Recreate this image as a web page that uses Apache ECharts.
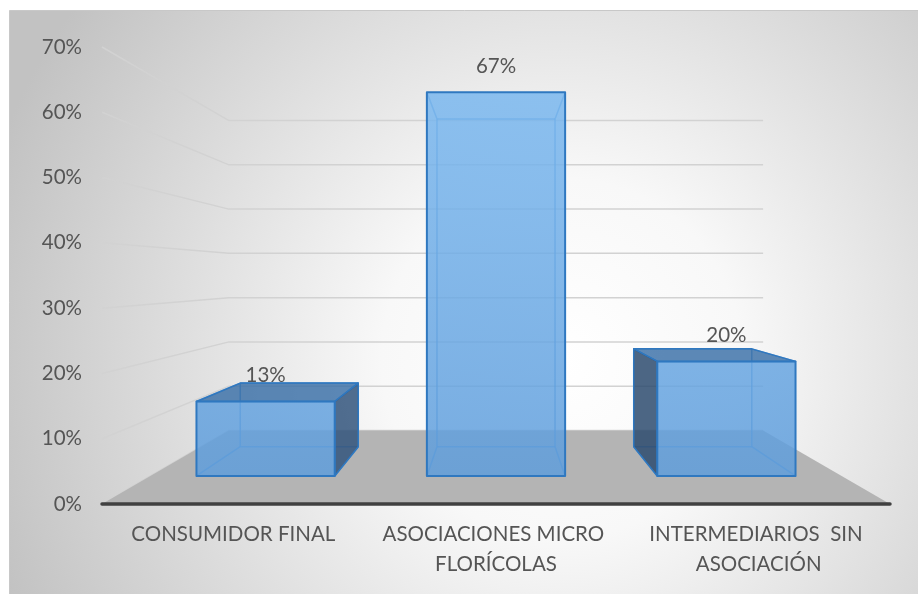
<!DOCTYPE html>
<html><head><meta charset="utf-8">
<script src="https://cdn.jsdelivr.net/npm/echarts@6/dist/echarts.min.js"></script>
<style>html,body{margin:0;padding:0;background:#fff}#c{width:918px;height:594px}</style>
</head><body><div id="c"></div>
<script>
const categories = ['CONSUMIDOR FINAL', 'ASOCIACIONES MICRO FLORÍCOLAS', 'INTERMEDIARIOS  SIN ASOCIACIÓN'];
const values = [13, 67, 20];
const valueLabels = ['13%', '67%', '20%'];
const yTicks = [0, 10, 20, 30, 40, 50, 60, 70];

const FONT = 'Lato';
const FSIZE = 20.5;
const TEXT_COLOR = '#555555';
// depth parameters of the 3D box (perspective, vanishing point at plot centre)
const FLOOR_D = 0.475, BAR_D0 = 0.14, BAR_D1 = 0.335;

function makeProj(cs) {
  const vx = cs.x + cs.width / 2, vy = cs.y + cs.height / 2;
  return function (p, d) { const s = 1 / (1 + d); return [vx + (p[0] - vx) * s, vy + (p[1] - vy) * s]; };
}

function renderWall(params, api) {
  const cs = params.coordSys; const P = makeProj(cs);
  const y = api.coord([0, api.value(1)])[1];
  const xl = cs.x, xr = cs.x + cs.width;
  return {
    type: 'polyline',
    shape: { points: [[xl, y], P([xl, y], FLOOR_D), P([xr, y], FLOOR_D)] },
    style: { stroke: '#d2d2d2', lineWidth: 1.5, fill: null }
  };
}

function renderFloor(params, api) {
  const cs = params.coordSys; const P = makeProj(cs);
  const y0 = api.coord([0, api.value(1)])[1];
  const xl = cs.x, xr = cs.x + cs.width;
  return {
    type: 'group', children: [
      { type: 'polygon', shape: { points: [[xl, y0], [xr, y0], P([xr, y0], FLOOR_D), P([xl, y0], FLOOR_D)] }, style: { fill: '#b4b4b4' } },
      { type: 'line', shape: { x1: xl, y1: y0, x2: xr, y2: y0 }, style: { stroke: '#404040', lineWidth: 3.5, lineCap: 'round' } }
    ]
  };
}

function renderBar(params, api) {
  const cs = params.coordSys; const P = makeProj(cs);
  const i = api.value(0), v = api.value(1);
  const base = api.coord([i, 0]), top = api.coord([i, v]);
  const hw = api.size([1, 0])[0] * 0.3;
  const L = base[0] - hw, R = base[0] + hw, T = top[1], B = base[1];
  const box = d => ({ lt: P([L, T], d), rt: P([R, T], d), rb: P([R, B], d), lb: P([L, B], d) });
  const n = box(BAR_D0), f = box(BAR_D1);
  const edge = '#2f78c0';
  const hidden = 'rgba(70,140,210,0.75)';
  const ch = [];
  const ln = (a, b) => ch.push({ type: 'line', shape: { x1: a[0], y1: a[1], x2: b[0], y2: b[1] }, style: { stroke: hidden, lineWidth: 1.5 } });
  ln(f.lt, f.rt); ln(f.rt, f.rb); ln(f.rb, f.lb); ln(f.lb, f.lt);
  ln(n.lt, f.lt); ln(n.rt, f.rt); ln(n.rb, f.rb); ln(n.lb, f.lb);
  if (f.lt[1] < n.lt[1]) {
    ch.push({ type: 'polygon', shape: { points: [n.lt, n.rt, f.rt, f.lt] }, style: { fill: 'rgba(52,107,165,0.8)', stroke: edge, lineWidth: 1.5, lineJoin: 'round' } });
  }
  if (f.rt[0] > n.rt[0]) {
    ch.push({ type: 'polygon', shape: { points: [n.rt, f.rt, f.rb, n.rb] }, style: { fill: 'rgba(50,85,125,0.85)', stroke: edge, lineWidth: 1.5, lineJoin: 'round' } });
  }
  if (f.lt[0] < n.lt[0]) {
    ch.push({ type: 'polygon', shape: { points: [n.lt, f.lt, f.lb, n.lb] }, style: { fill: 'rgba(45,75,110,0.85)', stroke: edge, lineWidth: 1.5, lineJoin: 'round' } });
  }
  ch.push({
    type: 'polygon', shape: { points: [n.lt, n.rt, n.rb, n.lb] },
    style: {
      fill: { type: 'linear', global: true, x: 0, y: cs.y, x2: 0, y2: cs.y + cs.height,
        colorStops: [{ offset: 0, color: 'rgba(124,186,241,0.84)' }, { offset: 1, color: 'rgba(92,155,218,0.84)' }] },
      stroke: edge, lineWidth: 2, lineJoin: 'round'
    }
  });
  ch.push({
    type: 'text', x: (n.lt[0] + n.rt[0]) / 2, y: n.lt[1] - 26,
    style: { text: valueLabels[params.dataIndex], fill: TEXT_COLOR, fontSize: FSIZE, fontFamily: FONT, align: 'center', verticalAlign: 'middle' }
  });
  return { type: 'group', children: ch };
}

const chart = echarts.init(document.getElementById('c'), null, { renderer: 'canvas' });
chart.setOption({
  animation: false,
  backgroundColor: '#ffffff',
  graphic: [{
    type: 'rect', silent: true, z: -10,
    shape: { x: 9.5, y: 10.5, width: 920, height: 600 },
    style: {
      fill: { type: 'radial', x: 0.6, y: 0.58, r: 1.0,
        colorStops: [{ offset: 0, color: '#ffffff' }, { offset: 0.3, color: '#f8f8f8' }, { offset: 1, color: '#c2c2c2' }] },
      stroke: '#c8c8c8', lineWidth: 1
    }
  }],
  grid: { left: 102, right: 28, top: 47, bottom: 90, containLabel: false, outerBoundsMode: 'none' },
  xAxis: {
    type: 'category', data: categories,
    axisLine: { show: false }, axisTick: { show: false }, splitLine: { show: false },
    axisLabel: { interval: 0, color: TEXT_COLOR, fontFamily: FONT, fontSize: FSIZE, lineHeight: 30, margin: 15, width: 240, overflow: 'break', hideOverlap: false }
  },
  yAxis: {
    type: 'value', min: yTicks[0], max: yTicks[yTicks.length - 1], interval: yTicks[1] - yTicks[0],
    axisLine: { show: false }, axisTick: { show: false }, splitLine: { show: false },
    axisLabel: { formatter: '{value}%', color: TEXT_COLOR, fontFamily: FONT, fontSize: FSIZE, margin: 20, padding: [4, 0, 0, 0] }
  },
  series: [
    { type: 'custom', name: 'walls', z: 1, clip: false, silent: true, renderItem: renderWall, data: yTicks.map(t => [0, t]) },
    { type: 'custom', name: 'floor', z: 2, clip: false, silent: true, renderItem: renderFloor, data: [[0, yTicks[0]]] },
    { type: 'custom', name: 'bars', z: 3, clip: false, renderItem: renderBar, data: values.map((v, i) => [i, v]) }
  ]
});
</script>
</body></html>
